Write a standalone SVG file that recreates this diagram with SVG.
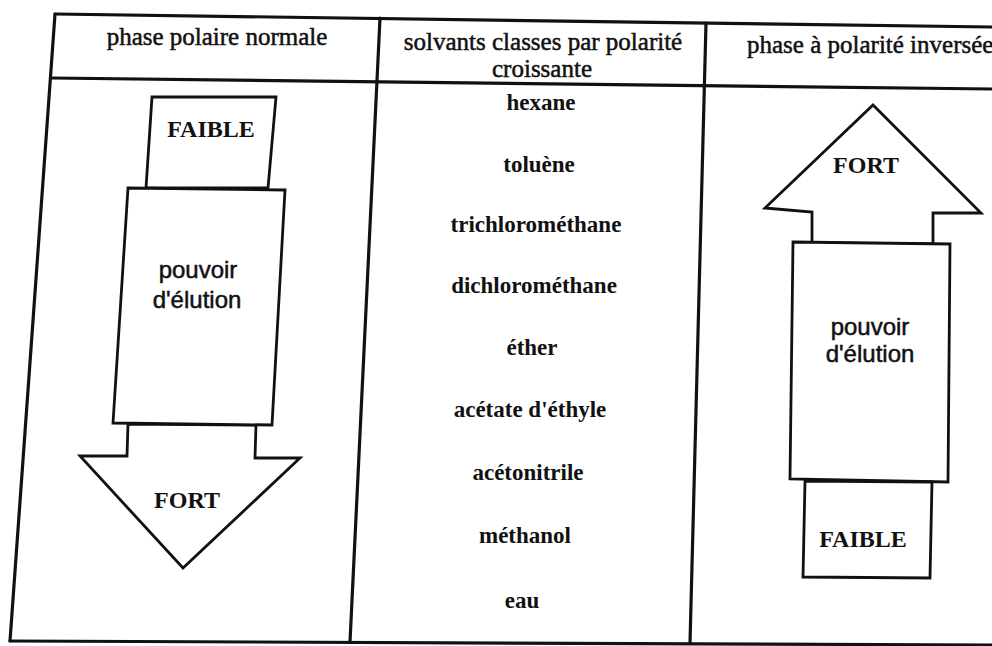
<svg xmlns="http://www.w3.org/2000/svg" width="992" height="646" viewBox="0 0 992 646">
  <style>
    .rule { stroke: #111; stroke-width: 3.2; fill: none; stroke-linecap: round; }
    .shape { stroke: #111; stroke-width: 2.8; fill: #fff; stroke-linejoin: miter; }
    .hdr { font-family: "Liberation Serif", "Times New Roman", serif; font-size: 25px; fill: #111; stroke: #111; stroke-width: 0.5; text-anchor: middle; }
    .solv { font-family: "Liberation Serif", "Times New Roman", serif; font-size: 23px; font-weight: bold; fill: #111; text-anchor: middle; }
    .big { font-family: "Liberation Serif", "Times New Roman", serif; font-size: 24px; font-weight: bold; fill: #111; text-anchor: middle; }
    .elu { font-family: "Liberation Sans", Arial, sans-serif; font-size: 24px; fill: #111; stroke: #111; stroke-width: 0.5; text-anchor: middle; }
  </style>
  <rect x="0" y="0" width="992" height="646" fill="#fff"/>

  <g id="table">
    <line class="rule" x1="55" y1="14" x2="992" y2="27"/>
    <line class="rule" x1="51" y1="78" x2="992" y2="89"/>
    <line class="rule" x1="55" y1="14" x2="10" y2="641"/>
    <line class="rule" x1="380" y1="18" x2="350" y2="642"/>
    <line class="rule" x1="706" y1="23" x2="690" y2="643"/>
    <line class="rule" x1="10" y1="641" x2="992" y2="645"/>
  </g>

  <g id="headers">
    <text class="hdr" x="217" y="45">phase polaire normale</text>
    <text class="hdr" x="543" y="50">solvants classes par polarité</text>
    <text class="hdr" x="542" y="77">croissante</text>
    <text class="hdr" x="747" y="53" style="text-anchor:start">phase à polarité inversée</text>
  </g>

  <g id="solvents">
    <text class="solv" x="541" y="110">hexane</text>
    <text class="solv" x="539" y="172">toluène</text>
    <text class="solv" x="536" y="232">trichlorométhane</text>
    <text class="solv" x="534" y="293">dichlorométhane</text>
    <text class="solv" x="532" y="355">éther</text>
    <text class="solv" x="530" y="417">acétate d'éthyle</text>
    <text class="solv" x="528" y="480">acétonitrile</text>
    <text class="solv" x="525" y="543">méthanol</text>
    <text class="solv" x="522" y="608">eau</text>
  </g>

  <g id="left-arrow">
    <polygon class="shape" points="152,97 276,97 268,188 146,188"/>
    <path class="shape" d="M128,424 L127,456 L80,456 L183,568 L300,458 L255,458 L256,425 Z"/>
    <polygon class="shape" points="128,188 285,190 272,425 113,423"/>
    <text class="big" x="211" y="137">FAIBLE</text>
    <text class="elu" x="198" y="278">pouvoir</text>
    <text class="elu" x="197" y="308">d'élution</text>
    <text class="big" x="187" y="508">FORT</text>
  </g>

  <g id="right-arrow">
    <path class="shape" d="M812,243 L812,212 L765,208 L873,105 L981,213 L933,213 L933,244 Z"/>
    <polygon class="shape" points="793,242 950,244 948,482 790,479"/>
    <polygon class="shape" points="805,481 932,482 930,578 803,577"/>
    <text class="big" x="866" y="173">FORT</text>
    <text class="elu" x="870" y="335">pouvoir</text>
    <text class="elu" x="870" y="362">d'élution</text>
    <text class="big" x="863" y="547">FAIBLE</text>
  </g>

  <g id="connectors"/>
</svg>
